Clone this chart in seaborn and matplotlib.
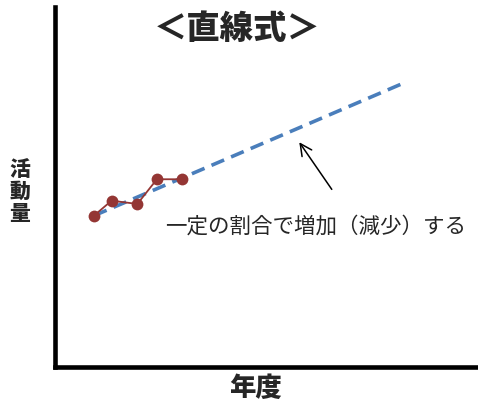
import matplotlib
matplotlib.use("Agg")
import matplotlib.pyplot as plt
import seaborn as sns
import pandas as pd

years = [1.0, 1.8, 2.97, 3.86, 5.0]
activity = [15.08, 16.58, 16.25, 18.72, 18.72]

# linear trend (dashed)
trend_years = [1.0, 15.09]
trend_values = [15.08, 28.35]

title_text = "＜直線式＞"
xlabel_text = "年度"
ylabel_text = "活\n動\n量"
note_text = "一定の割合で増加（減少）する"

sns.set_theme(style="white")
plt.rcParams['font.family'] = ['Noto Sans CJK JP', 'DejaVu Sans']

df = pd.DataFrame({"year": years, "activity": activity})
trend = pd.DataFrame({"year": trend_years, "activity": trend_values})

fig = plt.figure(figsize=(4.78, 4.05), dpi=100)
ax = fig.add_axes([0.115, 0.095, 0.885, 0.888])

sns.lineplot(data=trend, x="year", y="activity", ax=ax, color="#4a7ebb",
             linewidth=2.6, linestyle="--")
ax.lines[-1].set_dashes((3.8, 2.1))
sns.lineplot(data=df, x="year", y="activity", ax=ax, color="#943634",
             linewidth=1.3, marker="o", markersize=8.5, markeredgewidth=0)

ax.set_xlim(-0.773, 18.455)
ax.set_ylim(0, 35.95)
ax.set_xticks([])
ax.set_yticks([])
for side in ["top", "right"]:
    ax.spines[side].set_visible(False)
for side in ["left", "bottom"]:
    ax.spines[side].set_color("black")
    ax.spines[side].set_linewidth(3.3)

ax.set_xlabel(xlabel_text, fontsize=19, fontweight="black", va="center")
ax.xaxis.set_label_coords(0.475, -0.06)
ax.set_ylabel(ylabel_text, fontsize=15, fontweight="black", rotation=0,
              va="center", ha="center", linespacing=1.1)
ax.yaxis.set_label_coords(-0.083, 0.485)

fig.text(0.497, 0.93, title_text, fontsize=24, fontweight="black",
         ha="center", va="center")

ax.annotate("", xy=(10.26, 22.65), xytext=(11.88, 17.48),
            arrowprops=dict(arrowstyle="->", color="black", lw=1.1,
                            mutation_scale=21))
ax.text(4.227, 13.95, note_text, fontsize=15.5, ha="left", va="center")

fig.savefig("out.png", dpi=100)
